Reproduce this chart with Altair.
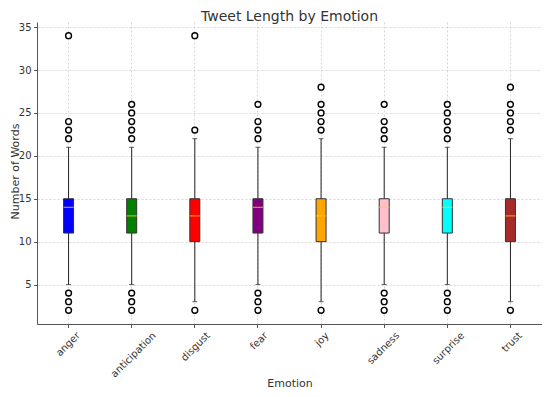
import altair as alt
import pandas as pd

chart_title = ["Tweet Length by Emotion"]
emotions = ["anger", "anticipation", "disgust", "fear", "joy", "sadness", "surprise", "trust"]
colors = ["#0000FF", "#008000", "#FF0000", "#800080", "#FFA500", "#FFC0CB", "#00FFFF", "#A52A2A"]
q1 = [11, 11, 10, 11, 10, 11, 11, 10]
median = [14, 13, 13, 14, 13, 14, 14, 13]
q3 = [15, 15, 15, 15, 15, 15, 15, 15]
whisker_lo = [5, 5, 3, 5, 3, 5, 5, 3]
whisker_hi = [21, 21, 22, 21, 22, 21, 21, 22]
outliers = [
    [2, 3, 4, 22, 23, 24, 34],
    [2, 3, 4, 22, 23, 24, 25, 26],
    [2, 23, 34],
    [2, 3, 4, 22, 23, 24, 26],
    [2, 23, 24, 25, 26, 28],
    [2, 3, 4, 22, 23, 24, 26],
    [2, 3, 4, 22, 23, 24, 25, 26],
    [2, 23, 24, 25, 26, 28],
]

stats = pd.DataFrame({
    "Emotion": emotions, "q1": q1, "median": median, "q3": q3,
    "lo": whisker_lo, "hi": whisker_hi,
})
out_df = pd.DataFrame(
    [{"Emotion": e, "value": v} for e, vals in zip(emotions, outliers) for v in vals]
)

W, H = 505, 302
font = "DejaVu Sans"
x_enc = alt.X(
    "Emotion:N", sort=emotions,
    scale=alt.Scale(paddingInner=0, paddingOuter=0),
    axis=alt.Axis(
        title="Emotion", labelAngle=-45, labelAlign="right", labelBaseline="top",
        grid=True, bandPosition=0.5, tickSize=3.5, labelPadding=2.5,
        labelOffset={"expr": "0.354 * (length(datum.label) * 5.2 - 8)"},
        titleX=W / 2, titleY=59.5, titleBaseline="middle", titleAlign="center",
    ),
)
y_scale = alt.Scale(domain=[0.4, 35.6], nice=False, zero=False)
y_axis = alt.Axis(
    title="Number of Words", values=[5, 10, 15, 20, 25, 30, 35], grid=True,
    tickSize=3.5, labelPadding=2.5, titleX=-22, titleY=149, titleBaseline="middle",
    titleAlign="center", titleAngle=-90,
)

base = alt.Chart(stats)

whisker = base.mark_rule(color="#222222", strokeWidth=1).encode(
    x=x_enc,
    y=alt.Y("lo:Q", scale=y_scale, axis=y_axis),
    y2="hi:Q",
)
caps_lo = base.mark_tick(color="#222222", size=5, thickness=1).encode(
    x=alt.X("Emotion:N", sort=emotions), y=alt.Y("lo:Q")
)
caps_hi = base.mark_tick(color="#222222", size=5, thickness=1).encode(
    x=alt.X("Emotion:N", sort=emotions), y=alt.Y("hi:Q")
)
box = base.mark_bar(size=10, stroke="#333333", strokeWidth=1).encode(
    x=alt.X("Emotion:N", sort=emotions),
    y=alt.Y("q1:Q"), y2="q3:Q",
    color=alt.Color("Emotion:N", scale=alt.Scale(domain=emotions, range=colors), legend=None),
)
med = base.mark_tick(color="#FFD700", size=10, thickness=1.2).encode(
    x=alt.X("Emotion:N", sort=emotions), y=alt.Y("median:Q")
)
pts = alt.Chart(out_df).mark_point(
    shape="circle", size=34, stroke="#000000", strokeWidth=1.4, fill="white", filled=False, opacity=1
).encode(
    x=alt.X("Emotion:N", sort=emotions), y=alt.Y("value:Q")
)
title_mark = alt.Chart(pd.DataFrame({"t": chart_title})).mark_text(
    font=font, fontSize=14, color="#333333", align="center", baseline="alphabetic"
).encode(
    text="t:N", x=alt.value(W / 2), y=alt.value(-1.5)
)

chart = alt.layer(whisker, caps_lo, caps_hi, box, med, pts, title_mark).properties(
    width=W, height=H,
    autosize=alt.AutoSizeParams(type="none"),
    padding={"left": 29, "top": 14, "right": 0, "bottom": 65},
).configure_view(stroke=None).configure_axis(
    labelFont=font, titleFont=font, labelFontSize=10, titleFontSize=11,
    labelColor="#333333", titleColor="#333333", titleFontWeight="normal",
    domainColor="#555555", tickColor="#555555",
    gridColor="#cccccc", gridDash=[2, 2], gridWidth=0.8,
)

chart.save("out.html", embed_options={"renderer": "svg", "actions": False})
